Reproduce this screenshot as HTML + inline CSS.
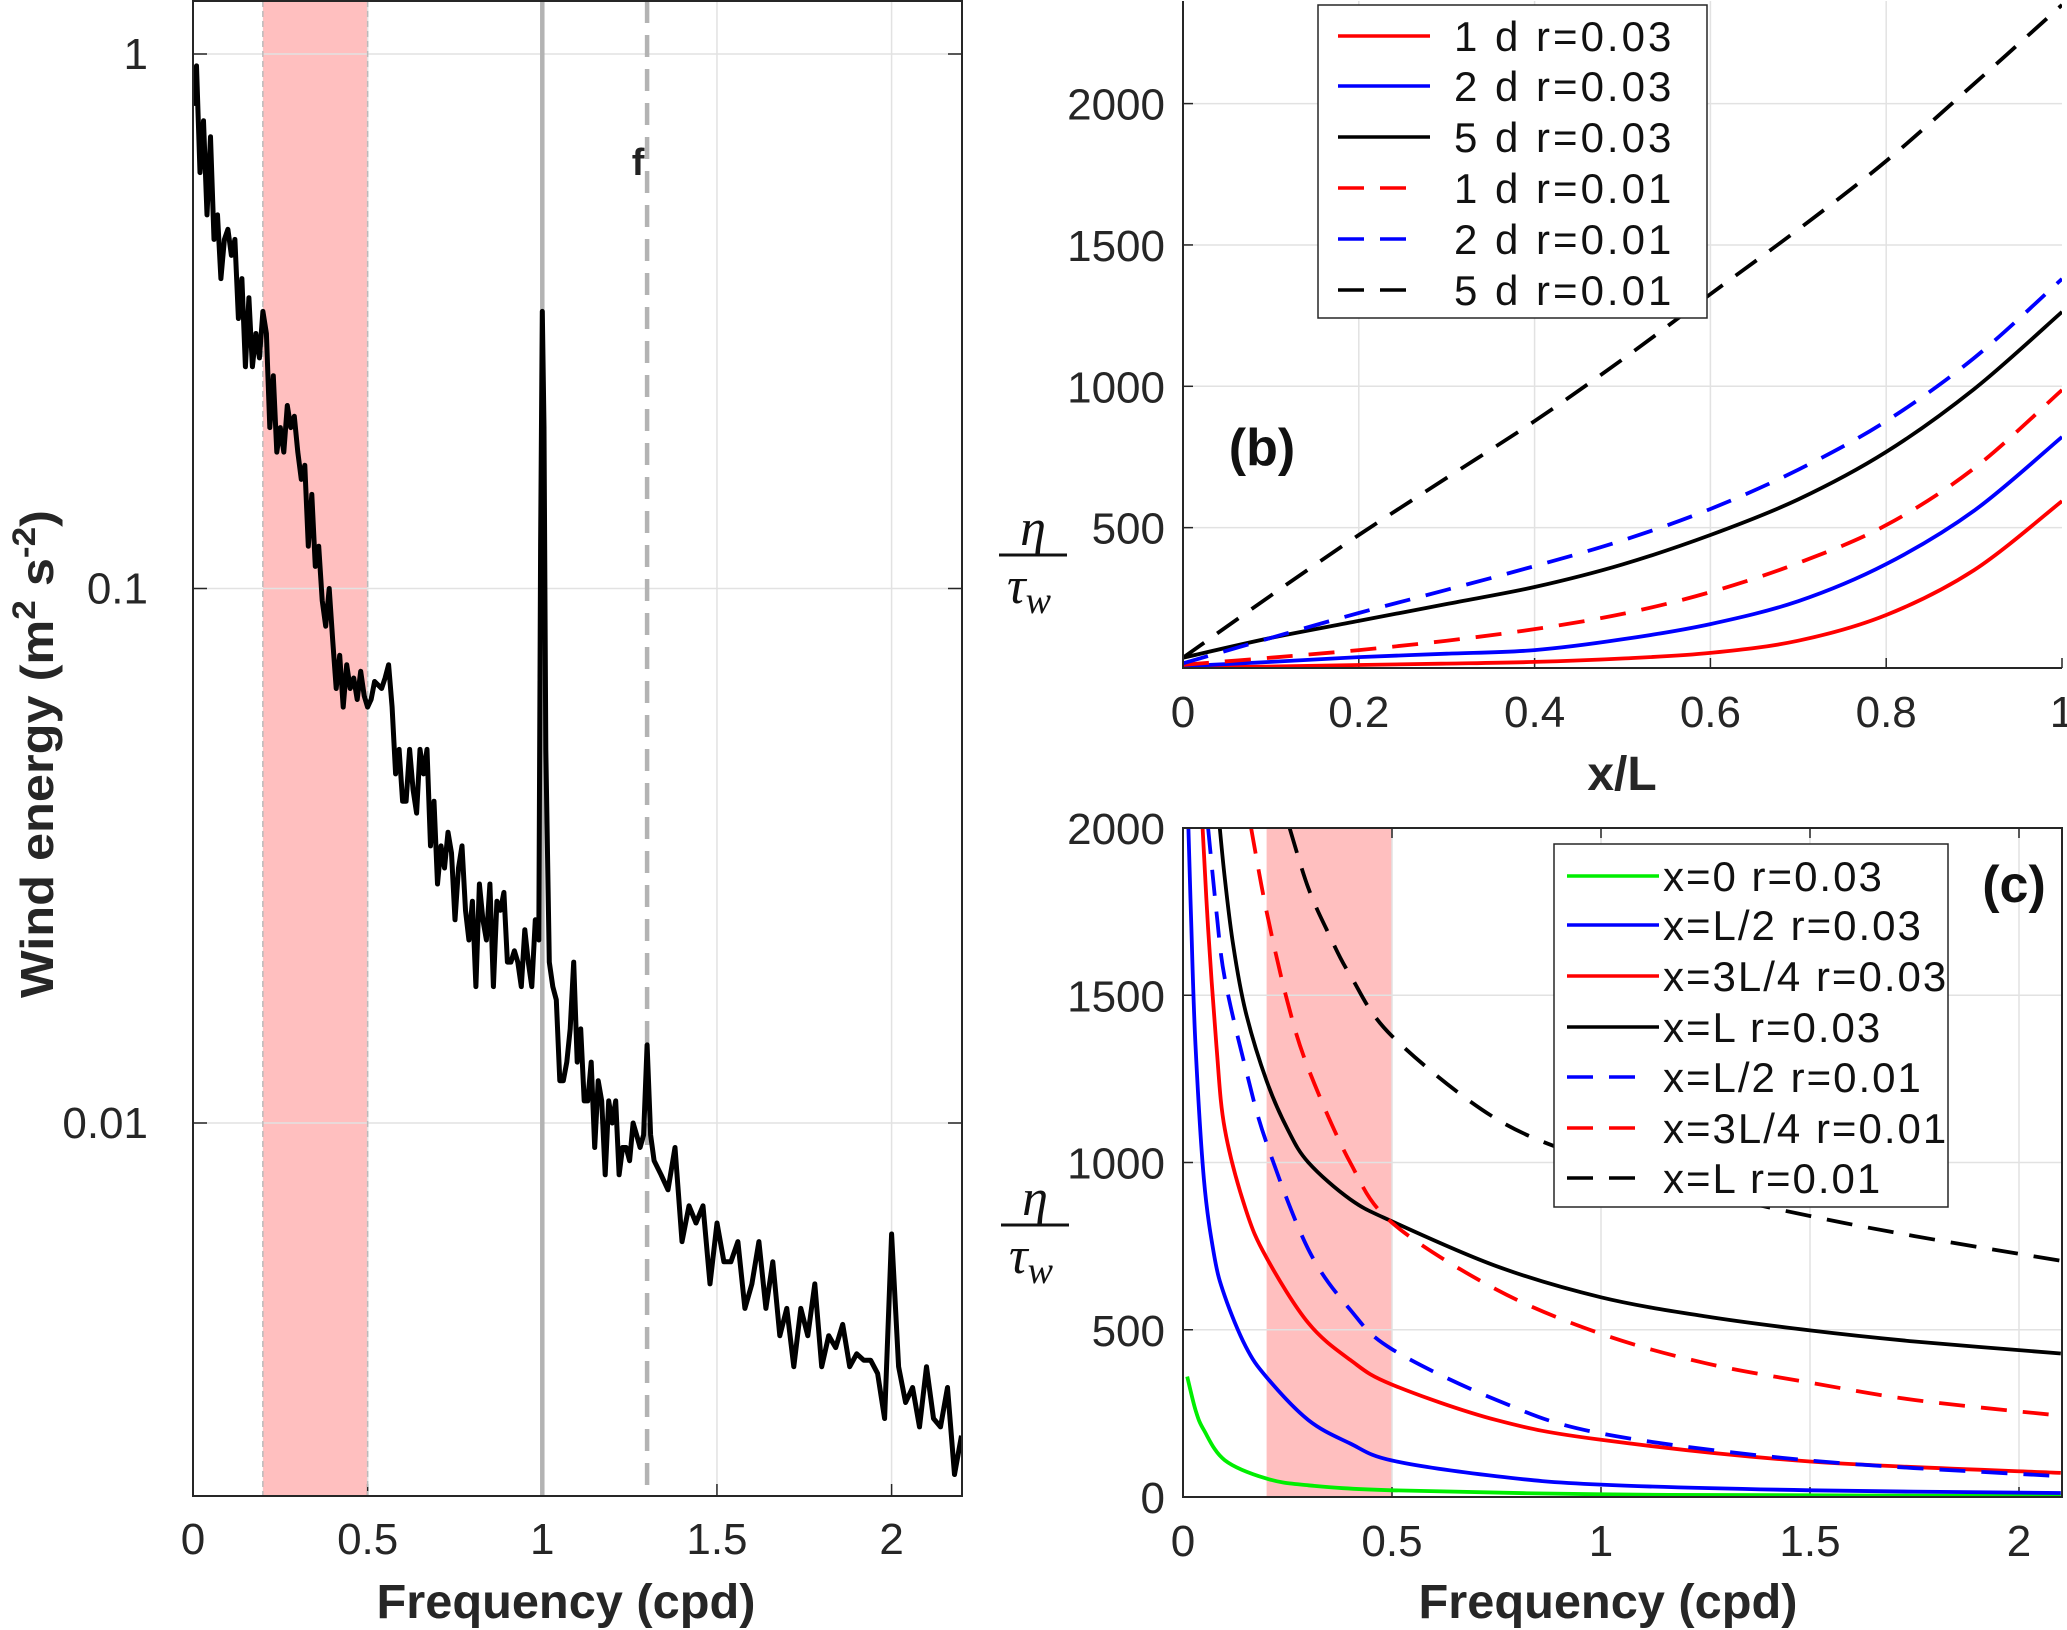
<!DOCTYPE html>
<html><head><meta charset="utf-8"><style>
html,body{margin:0;padding:0;background:#fff}
svg{display:block;font-family:"Liberation Sans",Arial,sans-serif}
</style></head><body>
<svg id="fig" width="2067" height="1630" viewBox="0 0 2067 1630" xmlns="http://www.w3.org/2000/svg">
<g id="pa"></g>
<g id="pb"></g>
<g id="pc"></g>
</svg>
<script>
// ---------- Panel A data ----------
const aFreq = [0,0.01,0.02,0.03,0.04,0.05,0.06,0.07,0.08,0.09,0.1,0.11,0.12,0.13,0.14,0.15,0.16,0.17,0.18,0.19,0.2,0.21,0.22,0.23,0.24,0.25,0.26,0.27,0.28,0.29,0.3,0.31,0.32,0.33,0.34,0.35,0.36,0.37,0.38,0.39,0.4,0.41,0.42,0.43,0.44,0.45,0.46,0.47,0.48,0.49,
0.5,0.51,0.52,0.53,0.54,0.55,0.56,0.57,0.58,0.59,0.6,0.61,0.62,0.63,0.64,0.65,0.66,0.67,0.68,0.69,0.7,0.71,0.72,0.73,0.74,0.75,0.76,0.77,0.78,0.79,0.8,0.81,0.82,0.83,0.84,0.85,0.86,0.87,0.88,0.89,0.9,0.91,0.92,0.93,0.94,0.95,0.96,0.97,0.98,0.99,0.995,1.0,1.005,
1.01,1.02,1.03,1.04,1.05,1.06,1.07,1.08,1.09,1.1,1.11,1.12,1.13,1.14,1.15,1.16,1.17,1.18,1.19,1.2,1.21,1.22,1.23,1.24,1.25,1.26,1.27,1.28,1.29,1.3,1.31,
1.32,1.34,1.36,1.38,1.4,1.42,1.44,1.46,1.48,1.5,1.52,1.54,1.56,1.58,1.6,1.62,1.64,1.66,1.68,1.7,1.72,1.74,1.76,1.78,1.8,1.82,1.84,1.86,1.88,1.9,1.92,1.94,1.96,1.98,2.0,2.02,2.04,2.06,2.08,2.1,2.12,2.14,2.16,2.18,2.2];
const aEnergy = [0.8,0.95,0.6,0.75,0.5,0.7,0.45,0.5,0.38,0.45,0.47,0.42,0.45,0.32,0.38,0.26,0.35,0.26,0.3,0.27,0.33,0.3,0.2,0.25,0.18,0.2,0.18,0.22,0.2,0.21,0.18,0.16,0.17,0.12,0.15,0.11,0.12,0.095,0.085,0.1,0.08,0.065,0.075,0.06,0.072,0.065,0.068,0.062,0.07,0.063,
0.06,0.062,0.067,0.066,0.065,0.068,0.072,0.06,0.045,0.05,0.04,0.04,0.05,0.042,0.038,0.05,0.045,0.05,0.033,0.04,0.028,0.033,0.03,0.035,0.032,0.024,0.03,0.033,0.025,0.022,0.026,0.018,0.028,0.024,0.022,0.028,0.018,0.026,0.025,0.027,0.02,0.02,0.021,0.02,0.018,0.023,0.02,0.018,0.024,0.022,0.12,0.33,0.2,
0.05,0.02,0.018,0.017,0.012,0.012,0.013,0.015,0.02,0.013,0.015,0.011,0.011,0.013,0.009,0.012,0.011,0.008,0.011,0.01,0.011,0.008,0.009,0.009,0.0085,0.01,0.0095,0.009,0.0095,0.014,0.0095,
0.0085,0.008,0.0075,0.009,0.006,0.007,0.0065,0.007,0.005,0.0065,0.0055,0.0055,0.006,0.0045,0.005,0.006,0.0045,0.0055,0.004,0.0045,0.0035,0.0045,0.004,0.005,0.0035,0.004,0.0038,0.0042,0.0035,0.0037,0.0036,0.0036,0.0034,0.0028,0.0062,0.0035,0.003,0.0032,0.0027,0.0035,0.0028,0.0027,0.0032,0.0022,0.0026];
const aXTicks = [0,0.5,1,1.5,2];
const aXTickLabels = ["0","0.5","1","1.5","2"];
const aYTicks = [1,0.1,0.01];
const aYTickLabels = ["1","0.1","0.01"];
const aBand = [0.2,0.5];
const aSolidLine = 1.0;
const aDashedLine = 1.3;

// ---------- Panel B data ----------
const bX = [0,0.1,0.2,0.3,0.4,0.5,0.6,0.7,0.8,0.9,1.0];
const b1d03 = [5,9,14,19,25,37,57,100,191,350,594];
const b2d03 = [10,25,42,54,67,105,159,240,371,560,821];
const b5d03 = [40,110,170,230,290,370,474,600,768,990,1263];
const b1d01 = [15,40,67,100,141,195,272,375,509,710,987];
const b2d01 = [20,110,198,280,364,455,566,705,877,1100,1380];
const b5d01 = [40,260,474,676,877,1095,1326,1555,1797,2070,2349];
const bXTicks = [0,0.2,0.4,0.6,0.8,1];
const bXTickLabels = ["0","0.2","0.4","0.6","0.8","1"];
const bYTicks = [500,1000,1500,2000];
const bYTickLabels = ["500","1000","1500","2000"];
const bLegend = ["1 d  r=0.03","2 d  r=0.03","5 d  r=0.03","1 d  r=0.01","2 d  r=0.01","5 d  r=0.01"];

// ---------- Panel C data ----------
const cGreenF = [0.01,0.03,0.05,0.1,0.2,0.3,0.5,1,1.5,2.1];
const cGreen = [360,260,200,110,55,35,20,8,5,3];
const cBlueF = [0.013,0.02,0.03,0.05,0.075,0.1,0.15,0.2,0.3,0.4,0.5,0.75,1,1.5,2.1];
const cBlue = [2000,1700,1350,950,720,600,450,358,230,160,109,62,37,20,12];
const cRedF = [0.047,0.06,0.08,0.1,0.15,0.2,0.3,0.4,0.5,0.75,1,1.5,2.1];
const cRed = [2000,1700,1350,1100,860,715,520,410,336,230,171,106,72];
const cBlackF = [0.088,0.1,0.12,0.15,0.2,0.25,0.3,0.4,0.5,0.75,1,1.25,1.5,1.75,2.1];
const cBlack = [2000,1850,1650,1450,1244,1100,1000,890,824,690,597,540,498,465,429];
const cBlueDF = [0.06,0.08,0.1,0.15,0.2,0.3,0.4,0.5,0.75,1,1.5,2.1];
const cBlueD = [2000,1750,1550,1280,1058,740,560,442,290,190,109,62];
const cRedDF = [0.163,0.2,0.25,0.3,0.4,0.5,0.75,1,1.25,1.5,1.75,2.1];
const cRedD = [2000,1750,1480,1280,1000,820,620,488,400,342,290,243];
const cBlackDF = [0.255,0.3,0.35,0.4,0.5,0.75,1,1.25,1.5,1.75,2.1];
const cBlackD = [2000,1820,1680,1560,1378,1130,1000,910,840,780,706];
const cXTicks = [0,0.5,1,1.5,2];
const cXTickLabels = ["0","0.5","1","1.5","2"];
const cYTicks = [0,500,1000,1500,2000];
const cYTickLabels = ["0","500","1000","1500","2000"];
const cBand = [0.2,0.5];
const cLegend = ["x=0  r=0.03","x=L/2  r=0.03","x=3L/4  r=0.03","x=L  r=0.03","x=L/2  r=0.01","x=3L/4  r=0.01","x=L  r=0.01"];

const NS="http://www.w3.org/2000/svg";
function mk(parent,tag,attrs,text){const e=document.createElementNS(NS,tag);for(const k in attrs)e.setAttribute(k,attrs[k]);if(text!==undefined)e.textContent=text;parent.appendChild(e);return e;}
function smoothPath(pts){
  if(pts.length<2)return "";
  let d="M"+pts[0][0].toFixed(1)+","+pts[0][1].toFixed(1);
  for(let i=0;i<pts.length-1;i++){
    const p0=pts[Math.max(0,i-1)],p1=pts[i],p2=pts[i+1],p3=pts[Math.min(pts.length-1,i+2)];
    const c1=[p1[0]+(p2[0]-p0[0])/6,p1[1]+(p2[1]-p0[1])/6];
    const c2=[p2[0]-(p3[0]-p1[0])/6,p2[1]-(p3[1]-p1[1])/6];
    d+=" C"+c1[0].toFixed(1)+","+c1[1].toFixed(1)+" "+c2[0].toFixed(1)+","+c2[1].toFixed(1)+" "+p2[0].toFixed(1)+","+p2[1].toFixed(1);
  }
  return d;
}

// ================= Panel A =================
(function(){
  const g=document.getElementById('pa');
  const L=193,R=962,T=1,B=1496;
  const xs=f=>L+f*(891.6-193)/2;
  const ys=v=>1123-(Math.log10(v)+2)*534.5;
  mk(g,'defs',{}).innerHTML='<clipPath id="clipA"><rect x="'+L+'" y="'+T+'" width="'+(R-L)+'" height="'+(B-T)+'"/></clipPath>';
  let e;
  e=mk(g,'rect',{x:xs(aBand[0]),y:T,width:xs(aBand[1])-xs(aBand[0]),height:B-T,fill:'#ffbfbf'});
   
  aXTicks.forEach((t,i)=>{
    if(t>0){e=mk(g,'line',{x1:xs(t),x2:xs(t),y1:T,y2:B,stroke:'#e2e2e2','stroke-width':1.5});
     }
    e=mk(g,'text',{x:xs(t),y:1554,'font-size':44,'text-anchor':'middle',fill:'#262626'},aXTickLabels[i]);
     
    mk(g,'line',{x1:xs(t),x2:xs(t),y1:B,y2:B-12,stroke:'#262626','stroke-width':1.5});
  });
  aYTicks.forEach((t,i)=>{
    e=mk(g,'line',{x1:L,x2:R,y1:ys(t),y2:ys(t),stroke:'#e2e2e2','stroke-width':1.5});
     
    mk(g,'line',{x1:L,x2:L+14,y1:ys(t),y2:ys(t),stroke:'#262626','stroke-width':1.5});
    mk(g,'line',{x1:R,x2:R-14,y1:ys(t),y2:ys(t),stroke:'#262626','stroke-width':1.5});
    e=mk(g,'text',{x:148,y:ys(t)+15,'font-size':44,'text-anchor':'end',fill:'#262626'},aYTickLabels[i]);
     
  });
  [aBand[0],aBand[1]].forEach(b=>{mk(g,'line',{x1:xs(b),x2:xs(b),y1:T,y2:B,stroke:'#bbbbbb','stroke-width':1.5,'stroke-dasharray':'6 4'});});
  e=mk(g,'line',{x1:xs(aSolidLine),x2:xs(aSolidLine),y1:T,y2:B,stroke:'#b3b3b3','stroke-width':4.5});
   
  e=mk(g,'line',{x1:xs(aDashedLine),x2:xs(aDashedLine),y1:T,y2:B,stroke:'#b3b3b3','stroke-width':4.5,'stroke-dasharray':'22 12'});
   
  e=mk(g,'text',{x:xs(aDashedLine)-9,y:175,'font-size':38,'font-weight':'bold','text-anchor':'middle',fill:'#222'},'f');
   
  const pts=aFreq.map((f,i)=>xs(f).toFixed(1)+','+ys(aEnergy[i]).toFixed(1)).join(' ');
  e=mk(g,'polyline',{points:pts,fill:'none',stroke:'#000','stroke-width':5,'stroke-linejoin':'round','clip-path':'url(#clipA)'});
   
  e=mk(g,'rect',{x:L,y:T,width:R-L,height:B-T,fill:'none',stroke:'#262626','stroke-width':2});
   
  e=mk(g,'text',{x:566,y:1618,'font-size':48,'font-weight':'bold','text-anchor':'middle',fill:'#262626',textLength:379,lengthAdjust:'spacingAndGlyphs'},'Frequency (cpd)');
   
  const yt=mk(g,'text',{transform:'translate(53,754) rotate(-90)','font-size':46,'font-weight':'bold','text-anchor':'middle',fill:'#262626',textLength:488,lengthAdjust:'spacingAndGlyphs'});
  yt.innerHTML='Wind energy (m<tspan dy="-18" font-size="32">2</tspan><tspan dy="18"> s</tspan><tspan dy="-18" font-size="32">-2</tspan><tspan dy="18">)</tspan>';
   
})();

function etaLabel(g,cx,y){
  const e=mk(g,'g',{});
   
  mk(e,'text',{x:cx,y:y,'font-size':52,'font-style':'italic','font-family':'"Liberation Serif",serif','text-anchor':'middle',fill:'#111'},'η');
  mk(e,'line',{x1:cx-34,x2:cx+34,y1:y+10,y2:y+10,stroke:'#111','stroke-width':3});
  const t=mk(e,'text',{x:cx-4,y:y+58,'font-size':52,'font-style':'italic','font-family':'"Liberation Serif",serif','text-anchor':'middle',fill:'#111'});
  t.innerHTML='τ<tspan font-size="38" dy="10">w</tspan>';
}

// ================= Panel B =================
(function(){
  const g=document.getElementById('pb');
  const L=1183,R=2062,T=1,B=668;
  const xs=x=>L+x*(R-L);
  const ys=v=>669-v*0.2827;
  mk(g,'defs',{}).innerHTML='<clipPath id="clipB"><rect x="'+L+'" y="'+T+'" width="'+(R-L)+'" height="'+(B-T)+'"/></clipPath>';
  let e;
  bXTicks.forEach((t,i)=>{
    if(t>0&&t<1){e=mk(g,'line',{x1:xs(t),x2:xs(t),y1:T,y2:B,stroke:'#e2e2e2','stroke-width':1.5});
     }
    mk(g,'line',{x1:xs(t),x2:xs(t),y1:B,y2:B-10,stroke:'#262626','stroke-width':1.5});
    e=mk(g,'text',{x:xs(t),y:727,'font-size':44,'text-anchor':'middle',fill:'#262626'},bXTickLabels[i]);
     
  });
  bYTicks.forEach((t,i)=>{
    e=mk(g,'line',{x1:L,x2:R,y1:ys(t),y2:ys(t),stroke:'#e2e2e2','stroke-width':1.5});
     
    mk(g,'line',{x1:L,x2:L+10,y1:ys(t),y2:ys(t),stroke:'#262626','stroke-width':1.5});
    e=mk(g,'text',{x:1165,y:ys(t)+16,'font-size':44,'text-anchor':'end',fill:'#262626'},bYTickLabels[i]);
     
  });
  const series=[[b1d03,'#ff0000',''],[b2d03,'#0000ff',''],[b5d03,'#000',''],[b1d01,'#ff0000','26 16'],[b2d01,'#0000ff','26 16'],[b5d01,'#000','26 16']];
  const names=['curve-1d-r003','curve-2d-r003','curve-5d-r003','curve-1d-r001','curve-2d-r001','curve-5d-r001'];
  series.forEach((s,k)=>{
    const pts=bX.map((x,i)=>[xs(x),ys(s[0][i])]);
    e=mk(g,'path',{d:smoothPath(pts),fill:'none',stroke:s[1],'stroke-width':3.8,'stroke-dasharray':s[2]||'none','clip-path':'url(#clipB)'});
     
  });
  e=mk(g,'path',{d:'M'+L+','+T+' V'+B+' H'+R,fill:'none',stroke:'#262626','stroke-width':2});
   
  const lg=mk(g,'g',{});
   
  mk(lg,'rect',{x:1318,y:5,width:389,height:313,fill:'#fff',stroke:'#262626','stroke-width':1.5});
  const rows=[36,86,137,188,239,290];
  bLegend.forEach((lab,i)=>{
    const s=series[i];
    const en=mk(lg,'g',{});
     
    mk(en,'line',{x1:1338,x2:i<3?1430:1418,y1:rows[i],y2:rows[i],stroke:s[1],'stroke-width':3.5,'stroke-dasharray':s[2]||'none'});
    mk(en,'text',{x:1454,y:rows[i]+15,'font-size':42,fill:'#111','xml:space':'preserve','letter-spacing':'3'},lab);
  });
  e=mk(g,'text',{x:1262,y:465,'font-size':52,'font-weight':'bold','text-anchor':'middle',fill:'#111'},'(b)');
   
  e=mk(g,'text',{x:1622,y:790,'font-size':48,'font-weight':'bold','text-anchor':'middle',fill:'#262626'},'x/L');
   
  etaLabel(g,1033,545);
})();

// ================= Panel C =================
(function(){
  const g=document.getElementById('pc');
  const L=1183,R=2062,T=828,B=1497;
  const xs=f=>L+f*418;
  const ys=v=>B-v*(B-T)/2000;
  mk(g,'defs',{}).innerHTML='<clipPath id="clipC"><rect x="'+L+'" y="'+T+'" width="'+(R-L)+'" height="'+(B-T)+'"/></clipPath>';
  let e;
  e=mk(g,'rect',{x:xs(cBand[0]),y:T,width:xs(cBand[1])-xs(cBand[0]),height:B-T,fill:'#ffbfbf'});
   
  cXTicks.forEach((t,i)=>{
    if(t>0){e=mk(g,'line',{x1:xs(t),x2:xs(t),y1:T,y2:B,stroke:'#e2e2e2','stroke-width':1.5});
     }
    mk(g,'line',{x1:xs(t),x2:xs(t),y1:B,y2:B-10,stroke:'#262626','stroke-width':1.5});
    mk(g,'line',{x1:xs(t),x2:xs(t),y1:T,y2:T+10,stroke:'#262626','stroke-width':1.5});
    e=mk(g,'text',{x:xs(t),y:1556,'font-size':44,'text-anchor':'middle',fill:'#262626'},cXTickLabels[i]);
     
  });
  cYTicks.forEach((t,i)=>{
    if(t>0&&t<2000){e=mk(g,'line',{x1:L,x2:R,y1:ys(t),y2:ys(t),stroke:'#e2e2e2','stroke-width':1.5});
     }
    mk(g,'line',{x1:L,x2:L+10,y1:ys(t),y2:ys(t),stroke:'#262626','stroke-width':1.5});
    e=mk(g,'text',{x:1165,y:ys(t)+16,'font-size':44,'text-anchor':'end',fill:'#262626'},cYTickLabels[i]);
     
  });
  const series=[[cGreenF,cGreen,'#00ee00',''],[cBlueF,cBlue,'#0000ff',''],[cRedF,cRed,'#ff0000',''],[cBlackF,cBlack,'#000',''],[cBlueDF,cBlueD,'#0000ff','26 16'],[cRedDF,cRedD,'#ff0000','26 16'],[cBlackDF,cBlackD,'#000','26 16']];
  const names=['curve-x0-r003','curve-xL2-r003','curve-x3L4-r003','curve-xL-r003','curve-xL2-r001','curve-x3L4-r001','curve-xL-r001'];
  series.forEach((s,k)=>{
    const pts=s[0].map((f,i)=>[xs(f),ys(s[1][i])]);
    e=mk(g,'path',{d:smoothPath(pts),fill:'none',stroke:s[2],'stroke-width':3.8,'stroke-dasharray':s[3]||'none','clip-path':'url(#clipC)'});
     
  });
  e=mk(g,'rect',{x:L,y:T,width:R-L,height:B-T,fill:'none',stroke:'#262626','stroke-width':2});
   
  const lg=mk(g,'g',{});
   
  mk(lg,'rect',{x:1554,y:844,width:394,height:363,fill:'#fff',stroke:'#262626','stroke-width':1.5});
  const rows=[876,925,976,1027,1077,1128,1178];
  cLegend.forEach((lab,i)=>{
    const s=series[i];
    const en=mk(lg,'g',{});
     
    mk(en,'line',{x1:1567,x2:i<4?1659:1647,y1:rows[i],y2:rows[i],stroke:s[2],'stroke-width':3.5,'stroke-dasharray':s[3]||'none'});
    mk(en,'text',{x:1663,y:rows[i]+15,'font-size':42,fill:'#111','xml:space':'preserve','letter-spacing':'2'},lab);
  });
  e=mk(g,'text',{x:2014,y:902,'font-size':52,'font-weight':'bold','text-anchor':'middle',fill:'#111'},'(c)');
   
  e=mk(g,'text',{x:1608,y:1618,'font-size':48,'font-weight':'bold','text-anchor':'middle',fill:'#262626',textLength:379,lengthAdjust:'spacingAndGlyphs'},'Frequency (cpd)');
   
  etaLabel(g,1035,1215);
})();
</script>
</body></html>
